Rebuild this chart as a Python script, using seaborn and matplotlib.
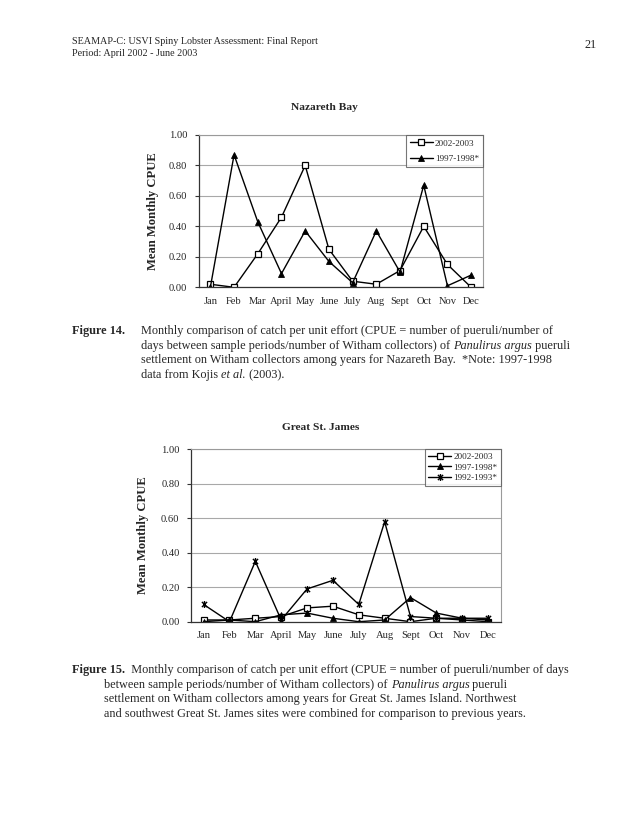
import matplotlib
matplotlib.use('Agg')
import matplotlib.pyplot as plt
import seaborn as sns
import numpy as np
import pandas as pd
from matplotlib.path import Path

# ---------------- data ----------------
months = ["Jan", "Feb", "Mar", "April", "May", "June", "July", "Aug", "Sept", "Oct", "Nov", "Dec"]
naz_2002 = [0.02, 0.00, 0.22, 0.46, 0.80, 0.25, 0.04, 0.02, 0.11, 0.40, 0.15, 0.00]
naz_1997 = [0.00, 0.87, 0.43, 0.09, 0.37, 0.17, 0.03, 0.37, 0.10, 0.67, 0.01, 0.08]
gsj_2002 = [0.01, 0.01, 0.02, 0.03, 0.08, 0.09, 0.04, 0.02, 0.00, 0.02, 0.01, 0.00]
gsj_1997 = [0.00, 0.01, 0.00, 0.04, 0.05, 0.02, 0.00, 0.01, 0.14, 0.05, 0.02, 0.01]
gsj_1992 = [0.10, 0.00, 0.35, 0.01, 0.19, 0.24, 0.10, 0.58, 0.03, 0.02, 0.02, 0.02]
y_ticks = [0.0, 0.2, 0.4, 0.6, 0.8, 1.0]
series_labels = ["2002-2003", "1997-1998*", "1992-1993*"]

# ---------------- style ----------------
sns.set_theme(style='white')
plt.rcParams['font.family'] = ['Liberation Serif', 'DejaVu Serif']

W, H = 630, 815
fig = plt.figure(figsize=(W / 100, H / 100), dpi=100)
fig.patch.set_facecolor('white')

star = Path([(0, -1), (0, 1), (-0.75, -0.75), (0.75, 0.75), (-0.75, 0.75), (0.75, -0.75)],
            [Path.MOVETO, Path.LINETO, Path.MOVETO, Path.LINETO, Path.MOVETO, Path.LINETO])

def px_axes(l, t, r, b):
    return fig.add_axes([l / W, 1 - b / H, (r - l) / W, (b - t) / H])

def style_axes(ax):
    ax.set_xlim(-0.5, 11.5)
    ax.set_ylim(0, 1.0)
    ax.set_yticks(y_ticks)
    ax.set_yticklabels([f"{v:.2f}" for v in y_ticks], fontsize=7.6)
    ax.set_xticks(range(12))
    ax.set_xticklabels(months, fontsize=7.6)
    ax.set_xticks(np.arange(-0.5, 12, 1), minor=True)
    ax.tick_params(axis='x', which='major', length=0, pad=7)
    ax.tick_params(axis='x', which='minor', length=3, width=0.8, color='#333333', direction='out')
    ax.tick_params(axis='y', which='major', length=3, width=0.8, color='#333333', direction='out', pad=5, left=True)
    ax.yaxis.grid(True, color='#a8a8a8', linewidth=0.8)
    ax.xaxis.grid(False)
    ax.set_axisbelow(True)
    for s in ['top', 'right']:
        ax.spines[s].set_color('#9a9a9a')
        ax.spines[s].set_linewidth(0.8)
    for s in ['left', 'bottom']:
        ax.spines[s].set_color('#333333')
        ax.spines[s].set_linewidth(0.9)
    ax.set_xlabel('')
    ax.set_ylabel('')

line_kw = dict(color='black', linewidth=1.0, sort=False, markeredgecolor='black')

# ---------------- Chart 1: Nazareth Bay ----------------
ax1 = px_axes(198.5, 135, 483, 287.3)
sns.lineplot(x=months, y=naz_2002, ax=ax1, marker='s', markersize=4.2, markerfacecolor='white',
             markeredgewidth=0.9, label=series_labels[0], **line_kw)
sns.lineplot(x=months, y=naz_1997, ax=ax1, marker='^', markersize=5, markerfacecolor='black',
             markeredgewidth=0.6, label=series_labels[1], **line_kw)
style_axes(ax1)
leg = ax1.legend(loc='upper right', borderaxespad=0, fontsize=6.6, frameon=True, fancybox=False,
                 edgecolor='#555555', handlelength=2.5, handletextpad=0.2, borderpad=0.45,
                 labelspacing=0.75)
leg.get_frame().set_linewidth(0.8)

# ---------------- Chart 2: Great St. James ----------------
ax2 = px_axes(190.7, 449.3, 501, 621.7)
sns.lineplot(x=months, y=gsj_2002, ax=ax2, marker='s', markersize=4.2, markerfacecolor='white',
             markeredgewidth=0.9, label=series_labels[0], **line_kw)
sns.lineplot(x=months, y=gsj_1997, ax=ax2, marker='^', markersize=5, markerfacecolor='black',
             markeredgewidth=0.6, label=series_labels[1], **line_kw)
sns.lineplot(x=months, y=gsj_1992, ax=ax2, marker=star, markersize=5, markerfacecolor='none',
             markeredgewidth=1.0, label=series_labels[2], **line_kw)
style_axes(ax2)
leg2 = ax2.legend(loc='upper right', borderaxespad=0, fontsize=6.6, frameon=True, fancybox=False,
                  edgecolor='#555555', handlelength=2.5, handletextpad=0.2, borderpad=0.4,
                  labelspacing=0.2)
leg2.get_frame().set_linewidth(0.8)

# ---------------- titles & y labels ----------------
fig.text(324 / W, 1 - 107 / H, "Nazareth Bay", ha='center', va='center', fontsize=8.2, fontweight='bold')
fig.text(321 / W, 1 - 427 / H, "Great St. James", ha='center', va='center', fontsize=8.2, fontweight='bold')
fig.text(153 / W, 1 - 211 / H, "Mean Monthly CPUE", ha='center', va='center', rotation=90,
         fontsize=9.1, fontweight='bold')
fig.text(143 / W, 1 - 535 / H, "Mean Monthly CPUE", ha='center', va='center', rotation=90,
         fontsize=9.1, fontweight='bold')

# ---------------- page text ----------------
BODY = 8.83
fig.text(72 / W, 1 - 42 / H, "SEAMAP-C: USVI Spiny Lobster Assessment: Final Report", ha='left', va='center', fontsize=7.3)
fig.text(72 / W, 1 - 53 / H, "Period: April 2002 - June 2003", ha='left', va='center', fontsize=7.3)
fig.text(597 / W, 1 - 45 / H, "21", ha='right', va='center', fontsize=BODY)

renderer = fig.canvas.get_renderer()

def _kw(st):
    kw = dict(fontsize=BODY, ha='left', va='baseline')
    if st == 'b':
        kw['fontweight'] = 'bold'
    elif st == 'i':
        kw['fontstyle'] = 'italic'
    return kw

def _width(txt, st):
    # width including trailing spaces: measure txt + "x" minus "x"
    t1 = fig.text(0, 0, txt + "x", **_kw(st))
    t2 = fig.text(0, 0, "x", **_kw(st))
    w = t1.get_window_extent(renderer=renderer).width - t2.get_window_extent(renderer=renderer).width
    t1.remove()
    t2.remove()
    return w

def runs(x, y, parts):
    """parts: list of (text, style) drawn left-to-right; y is vertical centre in px."""
    cx = x
    for txt, st in parts:
        fig.text(cx / W, 1 - (y + 4) / H, txt, **_kw(st))
        cx += _width(txt, st)

LS = 14.6
# Figure 14 caption
y0 = 330
runs(72, y0, [("Figure 14.", 'b')])
runs(141, y0, [("Monthly comparison of catch per unit effort (CPUE = number of pueruli/number of", 'r')])
runs(141, y0 + LS, [("days between sample periods/number of Witham collectors) of ", 'r'), ("Panulirus argus", 'i'), (" pueruli", 'r')])
runs(141, y0 + 2 * LS, [("settlement on Witham collectors among years for Nazareth Bay.  *Note: 1997-1998", 'r')])
runs(141, y0 + 3 * LS, [("data from Kojis ", 'r'), ("et al.", 'i'), (" (2003).", 'r')])

# Figure 15 caption
y1 = 669
runs(72, y1, [("Figure 15.", 'b'), ("  Monthly comparison of catch per unit effort (CPUE = number of pueruli/number of days", 'r')])
runs(104, y1 + LS, [("between sample periods/number of Witham collectors) of ", 'r'), ("Panulirus argus", 'i'), (" pueruli", 'r')])
runs(104, y1 + 2 * LS, [("settlement on Witham collectors among years for Great St. James Island. Northwest", 'r')])
runs(104, y1 + 3 * LS, [("and southwest Great St. James sites were combined for comparison to previous years.", 'r')])

fig.savefig('out.png', dpi=100, facecolor='white')
